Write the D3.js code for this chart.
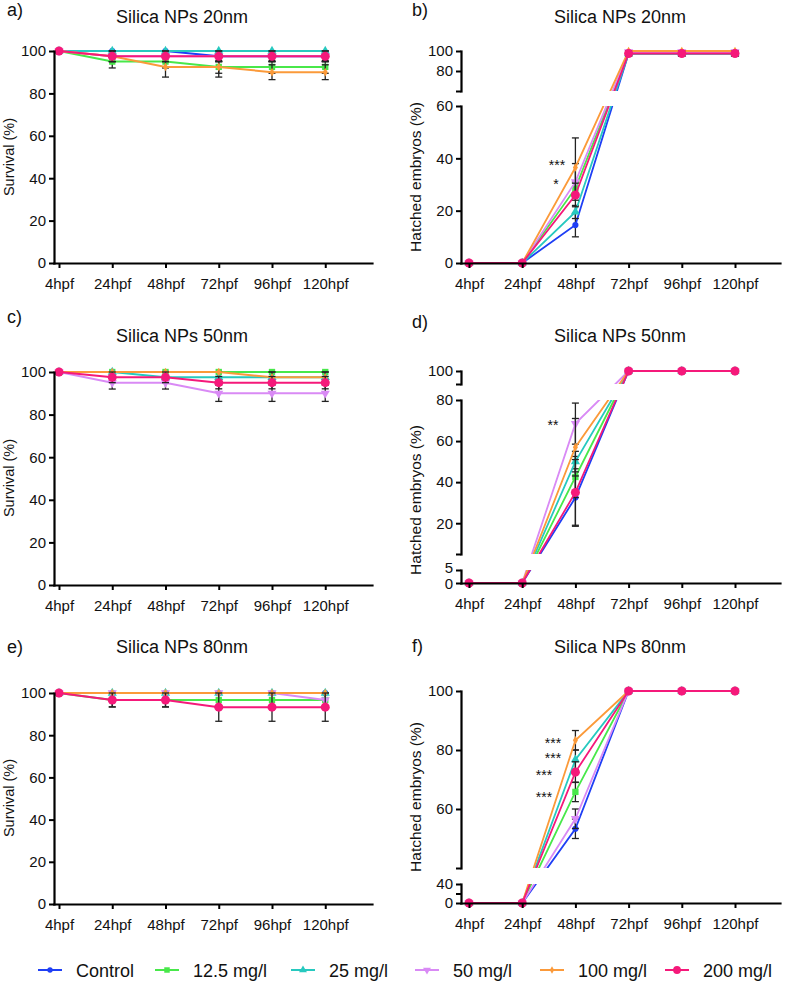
<!DOCTYPE html>
<html><head><meta charset="utf-8">
<script src="https://cdn.jsdelivr.net/npm/d3@7"></script>
<style>
body{margin:0;background:#fff}
svg text{font-family:"Liberation Sans",Arial,Helvetica,sans-serif;fill:#111}
</style>
</head><body>
<svg id="chart" width="787" height="983"></svg>
<script>
// ---------------- DATA ----------------
const categories = ["4hpf","24hpf","48hpf","72hpf","96hpf","120hpf"];
const seriesNames = ["Control","12.5 mg/l","25 mg/l","50 mg/l","100 mg/l","200 mg/l"];
const seriesColors = ["#1f3ff5","#48e84a","#27c9bf","#d98af5","#fb9a3a","#f5197a"];

// Survival (%) 20nm
const survival20Values = [
  [100,100,100,97.5,97.5,97.5],
  [100,95,95,92.5,92.5,92.5],
  [100,100,100,100,100,100],
  [100,97.5,97.5,97.5,97.5,97.5],
  [100,97.5,92.5,92.5,90,90],
  [100,97.5,97.5,97.5,97.5,97.5]];
const survival20Errors = [
  [0,0,0,2.5,2.5,2.5],
  [0,3,3,3,3,3],
  [0,0,0,0,0,0],
  [0,2.5,2.5,2.5,2.5,2.5],
  [0,2.5,4.8,4.8,3.5,3.5],
  [0,2.5,2.5,2.5,2.5,2.5]];

// Hatched embryos (%) 20nm
const hatch20Values = [
  [0,0,14.5,97.5,97.5,97.5],
  [0,0,28.5,97.5,97.5,97.5],
  [0,0,19.5,97.5,97.5,97.5],
  [0,0,31,99,99,99],
  [0,0,36.5,100,100,100],
  [0,0,26,97.5,97.5,97.5]];
const hatch20Errors = [
  [0,0,4.5,2.5,2.5,2.5],
  [0,0,2.5,2.5,2.5,2.5],
  [0,0,2.5,2.5,2.5,2.5],
  [0,0,7,1,1,1],
  [0,0,11.3,0,0,0],
  [0,0,4.5,2.5,2.5,2.5]];

// Survival (%) 50nm
const survival50Values = [
  [100,100,100,100,100,100],
  [100,100,100,100,100,100],
  [100,100,97.5,97.5,97.5,97.5],
  [100,95,95,90,90,90],
  [100,100,100,100,97.5,97.5],
  [100,97.5,97.5,95,95,95]];
const survival50Errors = [
  [0,0,0,0,0,0],
  [0,0,0,0,0,0],
  [0,0,2.5,2.5,2.5,2.5],
  [0,3,3,3.8,3.8,3.8],
  [0,0,0,0,2.5,2.5],
  [0,2.5,2.5,2.9,2.9,2.9]];

// Hatched embryos (%) 50nm
const hatch50Values = [
  [0,0,32.5,100,100,100],
  [0,0,42.5,100,100,100],
  [0,0,50,100,100,100],
  [0,0,68.5,100,100,100],
  [0,0,57,100,100,100],
  [0,0,35,100,100,100]];
const hatch50Errors = [
  [0,0,14,0,0,0],
  [0,0,10,0,0,0],
  [0,0,5,0,0,0],
  [0,0,10,0,0,0],
  [0,0,14,0,0,0],
  [0,0,16,0,0,0]];

// Survival (%) 80nm
const survival80Values = [
  [100,100,100,100,100,100],
  [100,96.7,96.7,96.7,96.7,96.7],
  [100,100,100,100,100,100],
  [100,100,100,100,100,96.7],
  [100,100,100,100,100,100],
  [100,96.7,96.7,93.3,93.3,93.3]];
const survival80Errors = [
  [0,0,0,0,0,0],
  [0,3.3,3.3,3.3,3.3,3.3],
  [0,0,0,0,0,0],
  [0,0,0,0,0,3.3],
  [0,0,0,0,0,0],
  [0,3.3,3.3,6.7,6.7,6.7]];

// Hatched embryos (%) 80nm
const hatch80Values = [
  [0,0,53.3,100,100,100],
  [0,0,65.8,100,100,100],
  [0,0,76.7,100,100,100],
  [0,0,56.7,100,100,100],
  [0,0,83.3,100,100,100],
  [0,0,72.5,100,100,100]];
const hatch80Errors = [
  [0,0,3.3,0,0,0],
  [0,0,3.3,0,0,0],
  [0,0,3.3,0,0,0],
  [0,0,3.3,0,0,0],
  [0,0,3.3,0,0,0],
  [0,0,3.5,0,0,0]];

const stars20 = ["***", "*"];
const stars50 = ["**"];
const stars80 = ["***", "***", "***", "***"];

// ---------------- LAYOUT ----------------
const svg = d3.select("#chart");
const FONT = '"Liberation Sans",Arial,Helvetica,sans-serif';

const symbolTypes = [d3.symbolCircle, d3.symbolSquare, d3.symbolTriangle, d3.symbolTriangle, d3.symbolDiamond, d3.symbolCircle];
const symbolSizes = [30, 40, 36, 36, 22, 64];
const symbolRot = [0,0,0,180,0,0];

const leftCol = {axisX:54, xEnd:372, x0:59, step:53.25, labelX:7, titleX:182, ytX:14};
const rightCol = {axisX:461, xEnd:780, x0:469, step:53.2, labelX:412, titleX:620, ytX:421};

const panels = [
  Object.assign({}, leftCol, {label:"a)", labelY:16, title:"Silica NPs 20nm", titleY:23,
    yTitle:"Survival (%)", yTitleY:157, ytSize:14.5, yBase:263, lw:2,
    values:survival20Values, errors:survival20Errors, stars:[],
    segments:[{domain:[0,100], range:[263,51], ticks:[0,20,40,60,80,100], labels:[0,20,40,60,80,100]}]}),
  Object.assign({}, rightCol, {label:"b)", labelY:16, title:"Silica NPs 20nm", titleY:23,
    yTitle:"Hatched embryos (%)", yTitleY:177, ytSize:15.5, yBase:263, lw:1.8,
    values:hatch20Values, errors:hatch20Errors,
    stars:[{t:stars20[0], x:557, y:163},{t:stars20[1], x:556, y:182}],
    segments:[{domain:[0,60], range:[263,106], ticks:[0,20,40,60], labels:[0,20,40,60]},
              {domain:[60,100], range:[91,51], ticks:[60,80,100], labels:[80,100]}]}),
  Object.assign({}, leftCol, {label:"c)", labelY:323, title:"Silica NPs 50nm", titleY:342,
    yTitle:"Survival (%)", yTitleY:478, ytSize:14.5, yBase:585, lw:2,
    values:survival50Values, errors:survival50Errors, stars:[],
    segments:[{domain:[0,100], range:[585,372], ticks:[0,20,40,60,80,100], labels:[0,20,40,60,80,100]}]}),
  Object.assign({}, rightCol, {label:"d)", labelY:328, title:"Silica NPs 50nm", titleY:342,
    yTitle:"Hatched embryos (%)", yTitleY:500, ytSize:15.5, yBase:583, lw:1.8,
    values:hatch50Values, errors:hatch50Errors,
    stars:[{t:stars50[0], x:553, y:423}],
    segments:[{domain:[0,5], range:[583,570], ticks:[0,5], labels:[0,5], shift:{5:-2.5, 0:1}},
              {domain:[5,80], range:[554,400], ticks:[5,20,40,60,80], labels:[20,40,60,80]},
              {domain:[95,100], range:[384,371], ticks:[95,100], labels:[100]}]}),
  Object.assign({}, leftCol, {label:"e)", labelY:653, title:"Silica NPs 80nm", titleY:653,
    yTitle:"Survival (%)", yTitleY:798, ytSize:14.5, yBase:904, lw:2,
    values:survival80Values, errors:survival80Errors, stars:[],
    segments:[{domain:[0,100], range:[904,693], ticks:[0,20,40,60,80,100], labels:[0,20,40,60,80,100]}]}),
  Object.assign({}, rightCol, {label:"f)", labelY:652, title:"Silica NPs 80nm", titleY:653,
    yTitle:"Hatched embryos (%)", yTitleY:797, ytSize:15.5, yBase:903, lw:1.8,
    values:hatch80Values, errors:hatch80Errors,
    stars:[{t:stars80[0], x:553, y:741},{t:stars80[1], x:553, y:756},{t:stars80[2], x:544, y:773},{t:stars80[3], x:544, y:795}],
    segments:[{domain:[0,40], range:[903,884], ticks:[0,20,40], labels:[0,40]},
              {domain:[40,100], range:[868,691], ticks:[40,60,80,100], labels:[60,80,100]}]})
];

const defs = svg.append("defs");

panels.forEach((p, pi) => {
  const g = svg.append("g");
  const x = d3.scaleLinear()
    .domain([(p.axisX - p.x0) / p.step, (p.xEnd - p.x0) / p.step])
    .range([p.axisX, p.xEnd]);
  const segScales = p.segments.map(s => d3.scaleLinear().domain(s.domain).range(s.range));
  const yOf = v => {
    for (let i = 0; i < p.segments.length; i++) {
      const d = p.segments[i].domain;
      if (v >= d[0] - 1e-9 && v <= d[1] + 1e-9) return segScales[i](v);
    }
    for (let i = 0; i < p.segments.length - 1; i++) {
      if (v > p.segments[i].domain[1] && v < p.segments[i+1].domain[0]) return segScales[i+1](v);
    }
    return segScales[segScales.length - 1](v);
  };

  // clip path (union of segment bands; the gaps between axis segments are blanked)
  const clipId = "clip" + pi;
  const cp = defs.append("clipPath").attr("id", clipId);
  p.segments.forEach((s, i) => {
    const top = s.range[1] - (i === p.segments.length - 1 ? 10 : 0);
    const bottom = s.range[0] + (i === 0 ? 10 : 0);
    cp.append("rect").attr("x", p.axisX - 2).attr("y", top)
      .attr("width", p.xEnd - p.axisX + 12).attr("height", bottom - top);
  });

  // panel label, title, y title
  g.append("text").attr("x", p.labelX).attr("y", p.labelY).attr("font-size", 18).text(p.label);
  g.append("text").attr("x", p.titleX).attr("y", p.titleY).attr("font-size", 18)
    .attr("text-anchor", "middle").text(p.title);
  g.append("text").attr("transform", `translate(${p.ytX},${p.yTitleY}) rotate(-90)`)
    .attr("font-size", p.ytSize).attr("text-anchor", "middle").text(p.yTitle);

  // series
  p.values.forEach((vals, si) => {
    const sg = g.append("g");
    const col = seriesColors[si];
    vals.forEach((v, i) => {
      const e = p.errors[si][i];
      if (e > 0) {
        const xx = x(i), yt = yOf(v + e), yb = yOf(v - e);
        sg.append("line").attr("x1", xx).attr("x2", xx).attr("y1", yt).attr("y2", yb)
          .attr("stroke", "#222").attr("stroke-width", 1.3);
        [yt, yb].forEach(yy => sg.append("line").attr("x1", xx - 3.5).attr("x2", xx + 3.5)
          .attr("y1", yy).attr("y2", yy).attr("stroke", "#222").attr("stroke-width", 1.3));
      }
    });
    sg.append("path").datum(vals)
      .attr("d", d3.line().x((d, i) => x(i)).y(d => yOf(d)))
      .attr("fill", "none").attr("stroke", col).attr("stroke-width", p.lw)
      .attr("clip-path", `url(#${clipId})`);
    vals.forEach((v, i) => {
      sg.append("path")
        .attr("d", d3.symbol().type(symbolTypes[si]).size(symbolSizes[si])())
        .attr("transform", `translate(${x(i)},${yOf(v)}) rotate(${symbolRot[si]})`)
        .attr("fill", col);
    });
  });

  // axes
  p.segments.forEach((s, i) => {
    const ax = g.append("g").attr("transform", `translate(${p.axisX},0)`)
      .call(d3.axisLeft(segScales[i]).tickValues(s.ticks)
        .tickFormat(v => s.labels.includes(v) ? v : "")
        .tickSize(5).tickPadding(3).tickSizeOuter(0));
    ax.selectAll("text").attr("font-size", 15).attr("font-family", FONT).attr("fill", "#111");
    if (s.shift) {
      ax.selectAll(".tick text").attr("transform", d => s.shift[d] ? `translate(0,${s.shift[d]})` : null);
    }
    ax.selectAll("line").attr("stroke", "#000").attr("stroke-width", 2);
    ax.select(".domain").attr("stroke", "#000").attr("stroke-width", 2.2).attr("stroke-linecap", "square");
  });
  const xa = g.append("g").attr("transform", `translate(0,${p.yBase})`)
    .call(d3.axisBottom(x).tickValues(d3.range(categories.length))
      .tickFormat(i => categories[i]).tickSize(5).tickPadding(10).tickSizeOuter(0));
  xa.selectAll("text").attr("font-size", 15).attr("font-family", FONT).attr("fill", "#111");
  xa.selectAll("line").attr("stroke", "#000").attr("stroke-width", 2);
  xa.select(".domain").attr("stroke", "#000").attr("stroke-width", 2.2).attr("stroke-linecap", "square");

  // significance stars
  p.stars.forEach(st => {
    g.append("text").attr("x", st.x).attr("y", st.y + 7).attr("font-size", 14)
      .attr("text-anchor", "middle").attr("fill", "#333").text(st.t);
  });
});

// legend
const legendMarkerX = [50, 167, 303, 427, 552, 677];
const lg = svg.append("g");
seriesNames.forEach((name, si) => {
  const mx = legendMarkerX[si];
  lg.append("line").attr("x1", mx - 12).attr("x2", mx + 12).attr("y1", 970).attr("y2", 970)
    .attr("stroke", seriesColors[si]).attr("stroke-width", 2);
  lg.append("path")
    .attr("d", d3.symbol().type(symbolTypes[si]).size(symbolSizes[si] * 0.75)())
    .attr("transform", `translate(${mx},970) rotate(${symbolRot[si]})`)
    .attr("fill", seriesColors[si]);
  lg.append("text").attr("x", mx + 26).attr("y", 977).attr("font-size", 18).text(name);
});
</script>
</body></html>
